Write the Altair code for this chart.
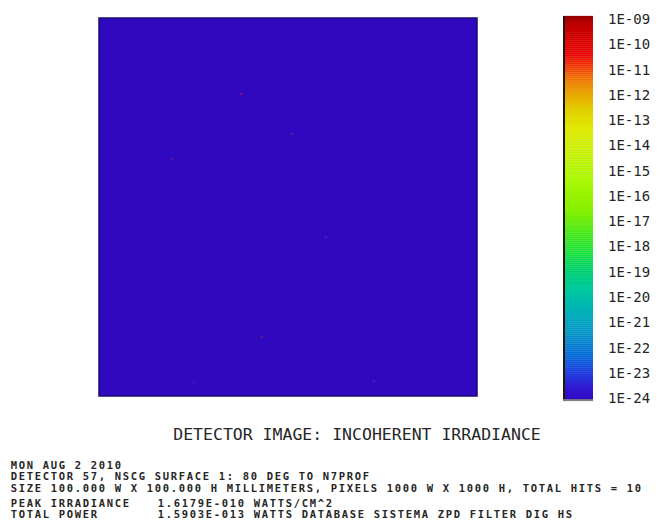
import altair as alt
import pandas as pd
import numpy as np

# ---------------- data ----------------
# detector hits, position in mm on a 100 x 100 mm detector centred at 0
hit_x = [-12.5, 1.0, -30.8, -7.0, 10.0, 22.8, -24.9]
hit_y = [29.9, 19.3, 12.8, -34.3, -8.0, -46.0, -46.3]
hit_shade = ["#9a1468", "#6a1a9a", "#6a1a9a", "#8a1270", "#6a1a9a", "#6a1a9a", "#4a14a8"]

# colour bar (log10 irradiance)
bar_exponents = list(range(-24, -8))          # -24 ... -9
bar_labels = ["1E-%02d" % (-e) for e in bar_exponents]
stop_values = [-24.04, -23.56, -22.93, -22.26, -21.46, -20.55, -19.68, -18.89, -18.30,
               -17.51, -16.52, -15.33, -14.14, -13.27, -12.56, -11.85, -11.29, -10.78,
               -10.38, -9.79, -9.08, -8.84]
stop_colors = ["#3008C0", "#3018D0", "#2040E0", "#0068D8", "#0090C8", "#00B0B8", "#00C8A0",
               "#00D070", "#10E040", "#40E818", "#88F000", "#A8F800", "#C8F000", "#E0E800",
               "#E0D000", "#E8A000", "#F07000", "#F03000", "#E80000", "#D80000", "#B80000",
               "#900000"]

title_text = "DETECTOR IMAGE: INCOHERENT IRRADIANCE"
info_lines = [
    "MON AUG 2 2010",
    "DETECTOR 57, NSCG SURFACE 1: 80 DEG TO N7PROF",
    "SIZE 100.000 W X 100.000 H MILLIMETERS, PIXELS 1000 W X 1000 H, TOTAL HITS = 10",
    "PEAK IRRADIANCE",
    "TOTAL POWER",
]
info_values = ["1.6179E-010 WATTS/CM^2", "1.5903E-013 WATTS DATABASE SISTEMA ZPD FILTER DIG HS"]

# ---------------- layout ----------------
W, H = 644, 513
PX_MM = 3.78
img_left, img_top = 91, 10
xdom = [-50 - img_left / PX_MM, -50 - img_left / PX_MM + W / PX_MM]
ydom_top = 50 + img_top / PX_MM
ydom = [ydom_top - H / PX_MM, ydom_top]

K = 25.27          # px per decade on colour bar
bar_top_val = -8.84
cb_f = bar_top_val + 8 / K
cb_dom = [cb_f - H / K, cb_f]

mono = "DejaVu Sans Mono"
ink = "#262626"

xs = alt.Scale(domain=xdom, nice=False, zero=False)
ys = alt.Scale(domain=ydom, nice=False, zero=False)
cbs = alt.Scale(domain=cb_dom, nice=False, zero=False)
pxs = alt.Scale(domain=[0, W], nice=False, zero=False)
pys = alt.Scale(domain=[H, 0], nice=False, zero=False)

# detector background
bg = alt.Chart(pd.DataFrame({"x": [-50], "x2": [50], "y": [-50], "y2": [50]})).mark_rect(
    color="#3008C0", stroke="#1C0C70", strokeWidth=1.5
).encode(
    x=alt.X("x:Q", scale=xs, axis=None), x2="x2",
    y=alt.Y("y:Q", scale=ys, axis=None), y2="y2",
)

hits = alt.Chart(pd.DataFrame({"x": hit_x, "y": hit_y, "c": hit_shade})).mark_square(
    size=5, opacity=0.9
).encode(
    x=alt.X("x:Q", scale=xs, axis=None),
    y=alt.Y("y:Q", scale=ys, axis=None),
    color=alt.Color("c:N", scale=None),
)

# colour bar
lv = np.round(np.arange(stop_values[0] + 0.04, stop_values[-1], 0.08), 3)
cb_df = pd.DataFrame({"lv": lv, "lo": lv - 0.045, "hi": lv + 0.045})
cbar = alt.Chart(cb_df).mark_rect().encode(
    x=alt.value(555), x2=alt.value(585),
    y=alt.Y("lo:Q", scale=cbs, axis=None), y2="hi",
    color=alt.Color("lv:Q", scale=alt.Scale(domain=stop_values, range=stop_colors,
                                             interpolate="rgb"), legend=None),
)
cb_edge = alt.Chart(pd.DataFrame({"a": [stop_values[0]], "b": [stop_values[-1]]})).mark_rule(
    color="#201808", strokeWidth=2
).encode(x=alt.value(556), y=alt.Y("a:Q", scale=cbs, axis=None), y2="b")
cb_base = alt.Chart(pd.DataFrame({"a": [stop_values[0]]})).mark_rule(
    color="#808080", strokeWidth=2
).encode(x=alt.value(555), x2=alt.value(585), y=alt.Y("a:Q", scale=cbs, axis=None))

cb_lab = alt.Chart(pd.DataFrame({"e": bar_exponents, "t": bar_labels})).mark_text(
    align="left", baseline="middle", font=mono, fontSize=14, color=ink
).encode(x=alt.value(600), y=alt.Y("e:Q", scale=cbs, axis=None), text="t:N")

# title
title = alt.Chart(pd.DataFrame({"t": [title_text]})).mark_text(
    align="center", baseline="middle", font=mono, fontSize=16.5, color=ink
).encode(x=alt.value(349), y=alt.value(427), text="t:N")

# info block: printed on a fixed character pitch like the plotter font
PITCH = 8.0
line_y = [458, 469, 480.5, 495.5, 506.5]
seg = []
for s, yy in zip(info_lines, line_y):
    seg.append((s, 2, yy))
for s, yy in zip(info_values, line_y[3:]):
    seg.append((s, 149, yy))
rows = []
for s, x0, yy in seg:
    for j, ch in enumerate(s):
        if ch != " ":
            rows.append({"x": x0 + j * PITCH + PITCH / 2, "y": yy, "ch": ch})
info = alt.Chart(pd.DataFrame(rows)).mark_text(
    align="center", baseline="middle", font=mono, fontSize=10.5, fontWeight="bold", color=ink
).encode(
    x=alt.X("x:Q", scale=pxs, axis=None),
    y=alt.Y("y:Q", scale=pys, axis=None),
    text="ch:N",
)

chart = alt.layer(bg, hits, cbar, cb_edge, cb_base, cb_lab, title, info).resolve_scale(
    x="independent", y="independent", color="independent"
).properties(
    width=W, height=H, padding=0, autosize=alt.AutoSizeParams(type="none")
).configure_view(stroke=None)

chart.save("out.html", embed_options={"renderer": "svg", "actions": False})
